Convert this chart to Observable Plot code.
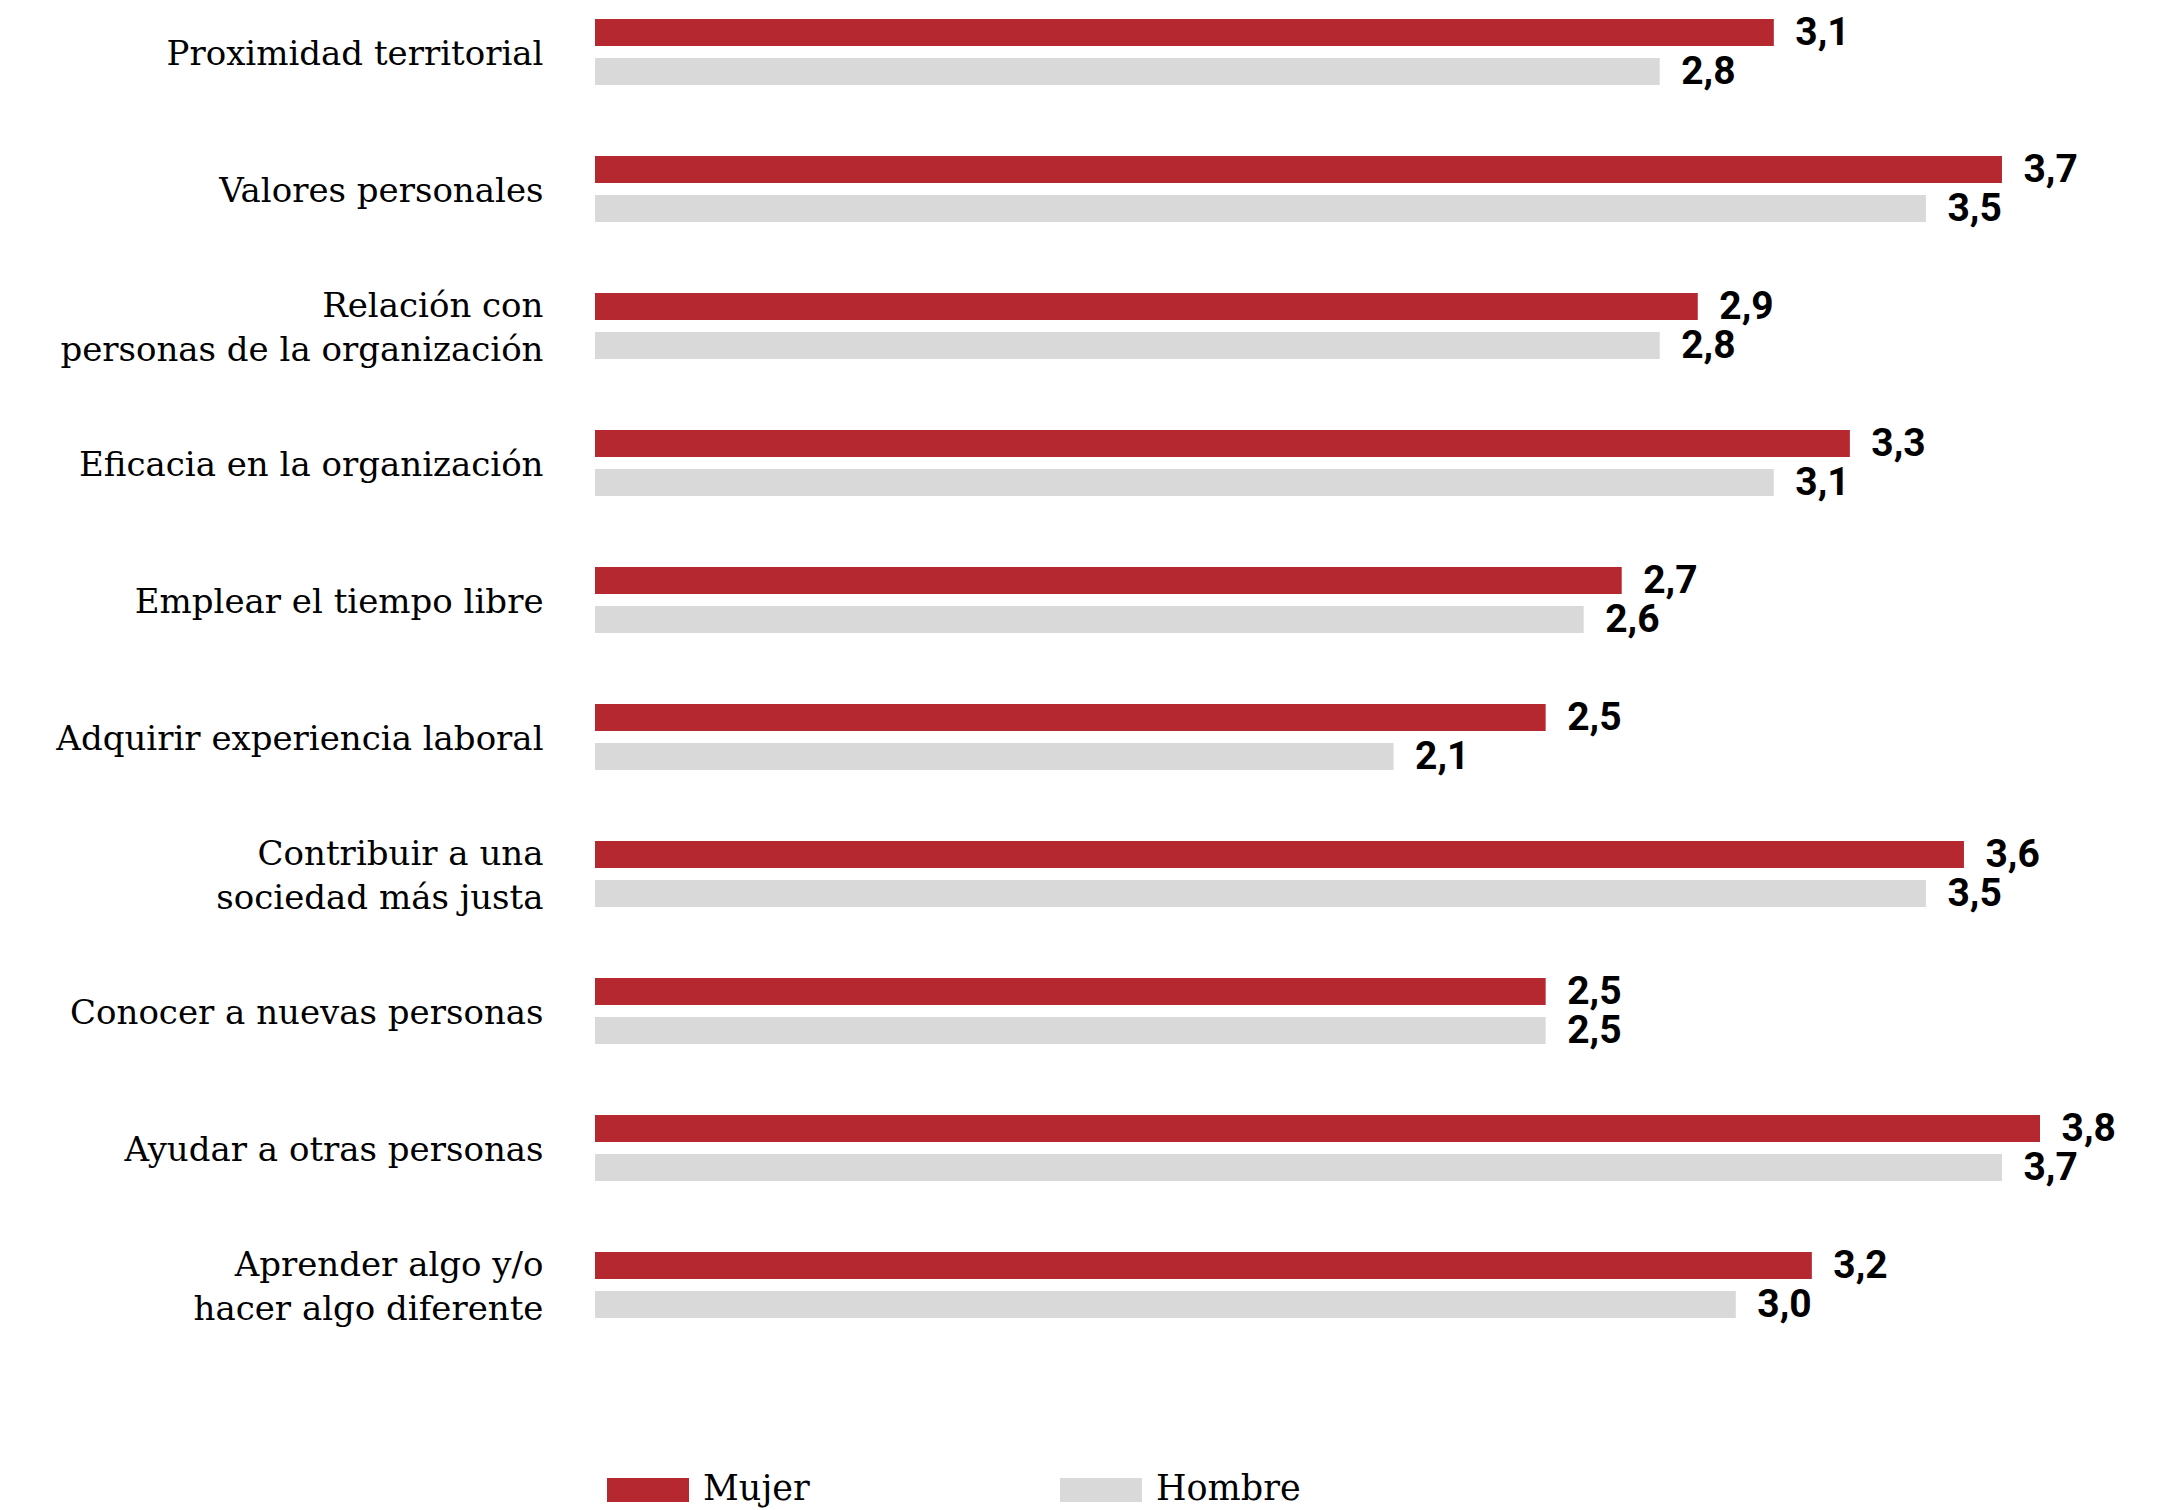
<!DOCTYPE html>
<html>
<head>
<meta charset="utf-8">
<script src="https://cdn.jsdelivr.net/npm/d3@7"></script>
<script src="https://cdn.jsdelivr.net/npm/@observablehq/plot@0.6"></script>
<style>
  html, body { margin: 0; padding: 0; background: #fff; overflow: hidden; }
  #wrap { position: relative; width: 2166px; height: 1510px; }
  #legend { position: absolute; left: 0; top: 1440px; width: 2166px; height: 70px;
            font-family: "DejaVu Serif", serif; font-size: 35px; color: #000; }
  .sw { position: absolute; top: 38px; width: 82px; height: 24px; }
  .lt { position: absolute; top: 28px; line-height: 40px; }
</style>
</head>
<body>
<div id="wrap"><div id="chart"></div>
  <div id="legend"></div>
</div>
<script>
const categories = [
  "Proximidad territorial",
  "Valores personales",
  "Relación con\npersonas de la organización",
  "Eficacia en la organización",
  "Emplear el tiempo libre",
  "Adquirir experiencia laboral",
  "Contribuir a una\nsociedad más justa",
  "Conocer a nuevas personas",
  "Ayudar a otras personas",
  "Aprender algo y/o\nhacer algo diferente"
];
const mujer  = [3.1, 3.7, 2.9, 3.3, 2.7, 2.5, 3.6, 2.5, 3.8, 3.2];
const hombre = [2.8, 3.5, 2.8, 3.1, 2.6, 2.1, 3.5, 2.5, 3.7, 3.0];
const series = ["Mujer", "Hombre"];
const colors = ["#B52830", "#D9D9D9"];

const dataM = categories.map((c, i) => ({category: c, value: mujer[i]}));
const dataH = categories.map((c, i) => ({category: c, value: hombre[i]}));
const fmt = d => d.toFixed(1).replace(".", ",");

const chart = Plot.plot({
  width: 2166,
  height: 1440,
  marginLeft: 595,
  marginRight: 126,
  marginTop: 19,
  marginBottom: 118,
  style: {background: "#fff", fontFamily: "Roboto, sans-serif"},
  x: {domain: [0, 3.8], axis: null},
  y: {domain: categories, paddingInner: 0.517, paddingOuter: 0, align: 0, axis: null},
  marks: [
    Plot.barX(dataM, {x: "value", y: "category", fill: colors[0], insetBottom: 39}),
    Plot.barX(dataH, {x: "value", y: "category", fill: colors[1], insetTop: 39}),
    Plot.text(dataM, {x: "value", y: "category", text: d => fmt(d.value), dx: 21, dy: -19.5,
      textAnchor: "start", fontSize: 39, fontWeight: "bold", fill: "#000", fontFamily: "Roboto"}),
    Plot.text(dataH, {x: "value", y: "category", text: d => fmt(d.value), dx: 21, dy: 19.5,
      textAnchor: "start", fontSize: 39, fontWeight: "bold", fill: "#000", fontFamily: "Roboto"}),
    Plot.axisY({tickSize: 0, tickPadding: 52, fontSize: 34, lineHeight: 1.3, dy: -2,
      fontFamily: "DejaVu Serif", fill: "#000", label: null})
  ]
});
document.getElementById("chart").appendChild(chart);

const legend = document.getElementById("legend");
const pos = [[607, 703], [1060, 1156]];
series.forEach((s, i) => {
  const sw = document.createElement("div");
  sw.className = "sw"; sw.style.left = pos[i][0] + "px"; sw.style.background = colors[i];
  const t = document.createElement("div");
  t.className = "lt"; t.style.left = pos[i][1] + "px"; t.textContent = s;
  legend.appendChild(sw); legend.appendChild(t);
});
</script>
</body>
</html>
